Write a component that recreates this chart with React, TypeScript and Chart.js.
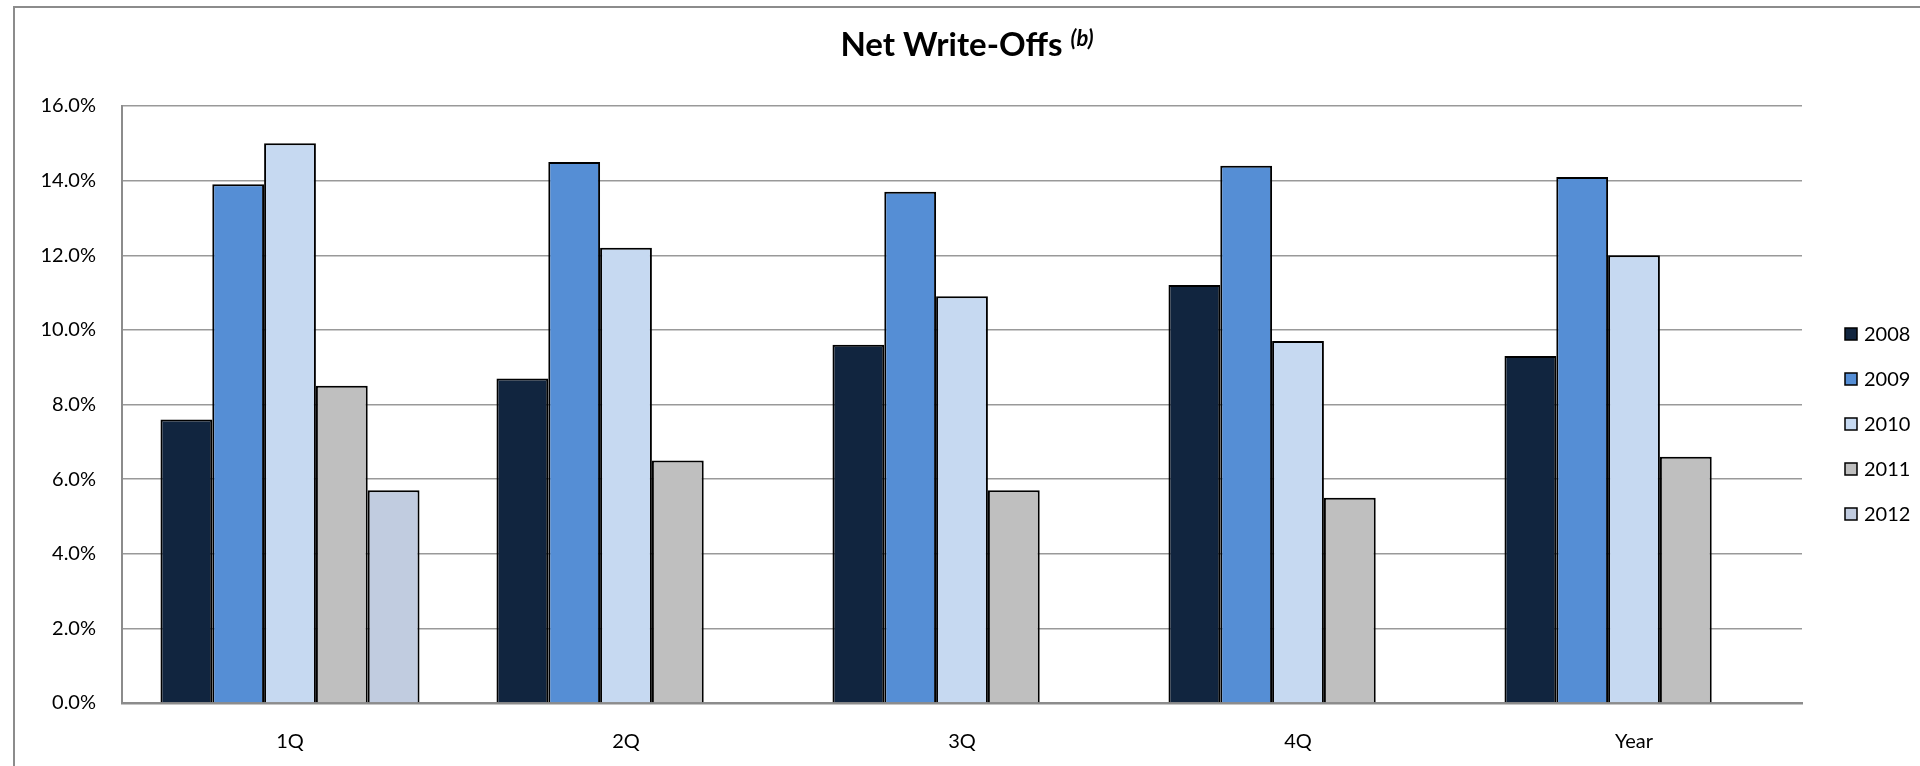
import React, { useEffect, useRef } from "react";
import { Chart, registerables } from "chart.js";

Chart.register(...registerables);

const categories = ["1Q", "2Q", "3Q", "4Q", "Year"];
const seriesLabels = ["2008", "2009", "2010", "2011", "2012"];
const values2008 = [7.6, 8.7, 9.6, 11.2, 9.3];
const values2009 = [13.9, 14.5, 13.7, 14.4, 14.1];
const values2010 = [15.0, 12.2, 10.9, 9.7, 12.0];
const values2011 = [8.5, 6.5, 5.7, 5.5, 6.6];
const values2012: (number | null)[] = [5.7, null, null, null, null];
const seriesColors = ["#11253f", "#558ed5", "#c6d9f1", "#bfbfbf", "#c1cce0"];
const yMin = 0;
const yMax = 16;
const yStep = 2;
const titleMain = "Net Write-Offs";
const titleNote = "(b)";

const FONT = "Lato, 'Open Sans', sans-serif";

const framePlugin = {
  id: "frame",
  beforeDraw(chart: any) {
    const ctx = chart.ctx;
    ctx.save();
    ctx.fillStyle = "#ffffff";
    ctx.fillRect(0, 0, chart.width, chart.height);
    ctx.strokeStyle = "#8c8c8c";
    ctx.lineWidth = 2;
    ctx.beginPath();
    ctx.moveTo(chart.width + 2, 7);
    ctx.lineTo(14, 7);
    ctx.lineTo(14, chart.height + 2);
    ctx.stroke();
    ctx.restore();
  },
};

const titlePlugin = {
  id: "richTitle",
  afterDraw(chart: any) {
    const ctx = chart.ctx;
    ctx.save();
    ctx.fillStyle = "#000000";
    ctx.textBaseline = "alphabetic";
    ctx.textAlign = "left";
    const mainFont = `bold 33px ${FONT}`;
    const noteFont = `italic bold 22px ${FONT}`;
    ctx.font = mainFont;
    const wMain = ctx.measureText(titleMain + " ").width;
    ctx.font = noteFont;
    const wNote = ctx.measureText(titleNote).width;
    const total = wMain + wNote;
    const cx = 967;
    const x0 = cx - total / 2;
    ctx.font = mainFont;
    ctx.fillText(titleMain + " ", x0, 56);
    ctx.font = noteFont;
    ctx.fillText(titleNote, x0 + wMain, 46);
    ctx.restore();
  },
};

const legendPlugin = {
  id: "sideLegend",
  afterDraw(chart: any) {
    const ctx = chart.ctx;
    ctx.save();
    const boxX = 1845;
    const textX = 1864;
    const startY = 334;
    const gap = 45;
    chart.data.datasets.forEach((ds: any, i: number) => {
      const y = startY + i * gap;
      ctx.fillStyle = ds.backgroundColor;
      ctx.fillRect(boxX, y - 6, 12, 12);
      ctx.strokeStyle = "#000000";
      ctx.lineWidth = 1.5;
      ctx.strokeRect(boxX, y - 6, 12, 12);
      ctx.fillStyle = "#000000";
      ctx.font = `20px ${FONT}`;
      ctx.textBaseline = "middle";
      ctx.textAlign = "left";
      ctx.fillText(ds.label, textX, y + 1);
    });
    ctx.restore();
  },
};

export default function App() {
  const canvasRef = useRef<HTMLCanvasElement | null>(null);

  useEffect(() => {
    const canvas = canvasRef.current;
    if (!canvas) return;
    const allValues = [values2008, values2009, values2010, values2011, values2012];
    const chart = new Chart(canvas, {
      type: "bar",
      data: {
        labels: categories,
        datasets: seriesLabels.map((label, i) => ({
          label,
          data: allValues[i] as any,
          backgroundColor: seriesColors[i],
          borderColor: "#000000",
          borderWidth: 2,
          categoryPercentage: 0.771,
          barPercentage: 1.0,
        })),
      },
      options: {
        animation: false,
        responsive: true,
        maintainAspectRatio: false,
        layout: { padding: { left: 0, top: 106, right: 118, bottom: 0 } },
        plugins: {
          legend: { display: false },
          title: { display: false },
          tooltip: { enabled: false },
        },
        scales: {
          x: {
            grid: { display: false, drawTicks: false },
            border: { display: true, color: "#8c8c8c", width: 2.5 },
            ticks: {
              color: "#000000",
              font: { family: FONT, size: 20 },
              padding: 27,
            },
            afterFit(scale: any) {
              scale.height = 63;
            },
          },
          y: {
            min: yMin,
            max: yMax,
            ticks: {
              stepSize: yStep,
              color: "#000000",
              font: { family: FONT, size: 20 },
              padding: 26,
              callback: (v: any) => Number(v).toFixed(1) + "%",
            },
            grid: { color: "#999999", lineWidth: 1.5, drawTicks: false },
            border: { display: true, color: "#8c8c8c", width: 2 },
            afterFit(scale: any) {
              scale.width = 122;
            },
          },
        },
      },
      plugins: [framePlugin, titlePlugin, legendPlugin],
    });
    return () => chart.destroy();
  }, []);

  return (
    <div style={{ position: "fixed", left: 0, top: 0, width: 1920, height: 766, background: "#fff" }}>
      <canvas ref={canvasRef} />
    </div>
  );
}
